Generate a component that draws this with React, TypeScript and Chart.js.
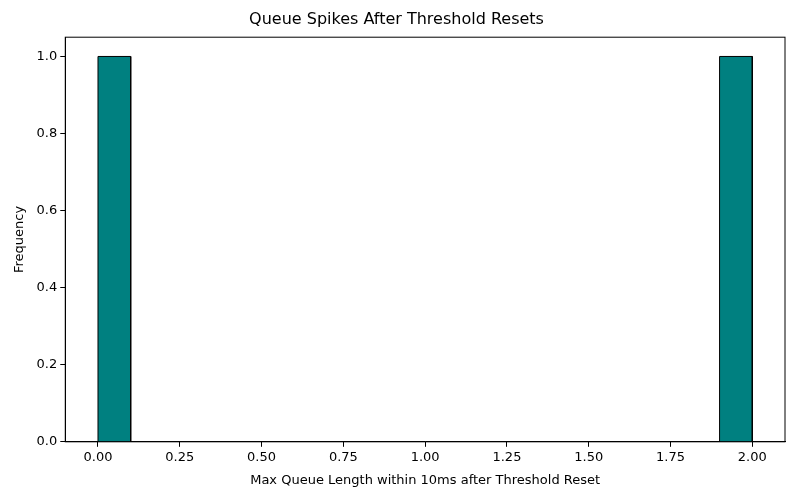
import React, { useEffect, useRef } from 'react';
import Chart from 'chart.js/auto';

// histogram bins (20 bins from 0 to 2)
const binEdges = [0, 0.1, 0.2, 0.3, 0.4, 0.5, 0.6, 0.7, 0.8, 0.9, 1.0, 1.1, 1.2, 1.3, 1.4, 1.5, 1.6, 1.7, 1.8, 1.9, 2.0];
const counts = [1, 0, 0, 0, 0, 0, 0, 0, 0, 0, 0, 0, 0, 0, 0, 0, 0, 0, 0, 1];
const xTicks = [0, 0.25, 0.5, 0.75, 1.0, 1.25, 1.5, 1.75, 2.0];
const yTicks = [0, 0.2, 0.4, 0.6, 0.8, 1.0];

const frame = {
  id: 'frame',
  afterDraw(chart: any) {
    const { ctx, chartArea: a } = chart;
    ctx.save();
    ctx.strokeStyle = '#000';
    ctx.lineWidth = 1;
    ctx.strokeRect(a.left, a.top, a.right - a.left, a.bottom - a.top);
    ctx.restore();
  },
};

const App: React.FC = () => {
  const chartRef = useRef<HTMLCanvasElement>(null);

  useEffect(() => {
    document.body.style.margin = '0';
    if (!chartRef.current) return;
    const datasets = counts
      .map((c, i) => ({ c, i }))
      .filter(b => b.c > 0)
      .map(({ c, i }) => ({
        data: [
          { x: binEdges[i], y: 0 },
          { x: binEdges[i], y: c },
          { x: binEdges[i + 1], y: c },
          { x: binEdges[i + 1], y: 0 },
        ],
        borderColor: '#000',
        borderWidth: 1,
        backgroundColor: '#008080',
        fill: 'origin' as const,
        pointRadius: 0,
        tension: 0,
      }));
    const font = { family: 'DejaVu Sans', size: 13 };
    const chart = new Chart(chartRef.current, {
      type: 'line',
      data: { datasets },
      options: {
        animation: false,
        responsive: false,
        layout: { padding: { left: 8, right: 15, top: 0, bottom: 8 } },
        plugins: {
          legend: { display: false },
          tooltip: { enabled: false },
          title: {
            display: true,
            text: 'Queue Spikes After Threshold Resets',
            color: '#000',
            font: { family: 'DejaVu Sans', size: 16, weight: 'normal' },
            padding: { top: 10, bottom: 8 },
          },
        },
        scales: {
          x: {
            type: 'linear',
            min: -0.1,
            max: 2.1,
            afterBuildTicks: (s: any) => { s.ticks = xTicks.map(v => ({ value: v })); },
            ticks: { color: '#000', font, callback: (v: any) => Number(v).toFixed(2), maxRotation: 0 },
            grid: { drawOnChartArea: false, tickLength: 5, tickColor: '#000' },
            border: { color: '#000' },
            title: { display: true, text: 'Max Queue Length within 10ms after Threshold Reset', color: '#000', font, padding: { top: 4 } },
          },
          y: {
            min: 0,
            max: 1.05,
            afterBuildTicks: (s: any) => { s.ticks = yTicks.map(v => ({ value: v })); },
            ticks: { color: '#000', font, callback: (v: any) => Number(v).toFixed(1) },
            grid: { drawOnChartArea: false, tickLength: 5, tickColor: '#000' },
            border: { color: '#000' },
            title: { display: true, text: 'Frequency', color: '#000', font, padding: { bottom: 6 } },
          },
        },
      },
      plugins: [frame],
    });
    return () => chart.destroy();
  }, []);

  return <canvas ref={chartRef} width={800} height={500} />;
};

export default App;
